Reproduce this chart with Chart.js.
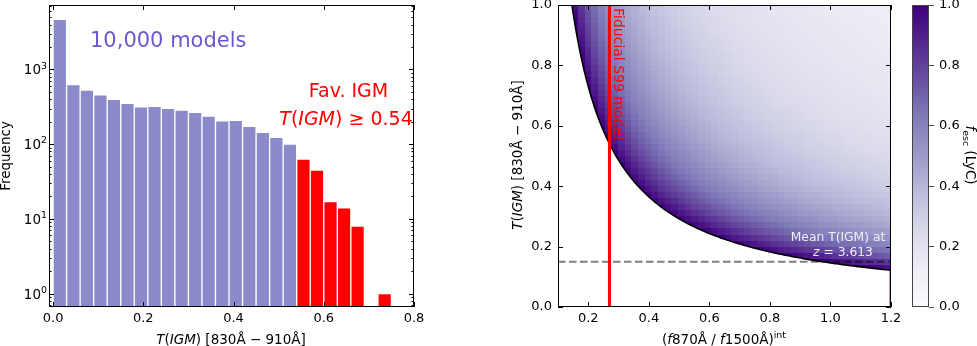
<!DOCTYPE html>
<html>
<head>
<meta charset="utf-8">
<script src="https://cdn.jsdelivr.net/npm/chart.js@4.4.1/dist/chart.umd.min.js"></script>
<style>
html, body { margin: 0; padding: 0; background: #fff; overflow: hidden; }
#wrap { position: relative; width: 977px; height: 346px; overflow: hidden; }
.box { position: absolute; }
</style>
</head>
<body>
<div id="wrap">
  <div class="box" style="left:0;top:-20px;width:470px;height:366px"><canvas id="histChart" width="470" height="366"></canvas></div>
  <div class="box" style="left:470px;top:-20px;width:440px;height:366px"><canvas id="mapChart" width="440" height="366"></canvas></div>
  <div class="box" style="left:880px;top:-20px;width:97px;height:366px"><canvas id="cbarChart" width="97" height="366"></canvas></div>
</div>
<script>
/* Histogram of T(IGM) over 830-910 A (bins of 0.03) */
const binLeft = [0.00, 0.03, 0.06, 0.09, 0.12, 0.15, 0.18, 0.21, 0.24, 0.27, 0.30, 0.33, 0.36,
                 0.39, 0.42, 0.45, 0.48, 0.51, 0.54, 0.57, 0.60, 0.63, 0.66, 0.69, 0.72];
const modelCounts = [4700, 630, 530, 458, 397, 351, 317, 320, 301, 286, 266, 238, 206,
                     208, 173, 144, 123, 100, 63, 45, 17, 14, 8, 0, 1];
const binWidth = 0.03;
const favCut = 0.54;
const histXTicks = [0.0, 0.2, 0.4, 0.6, 0.8];
const histYTicks = [1, 10, 100, 1000];
const histYExp = ['0', '1', '2', '3'];

/* fesc map: T(IGM) vs intrinsic (f870/f1500) */
const obsRatio = 0.146;
const fiducialRatio = 0.27;   // Fiducial S99 model
const meanTIGM = 0.15;        // mean T(IGM) at z = 3.613
const mapXTicks = [0.2, 0.4, 0.6, 0.8, 1.0, 1.2];
const mapYTicks = [0.0, 0.2, 0.4, 0.6, 0.8, 1.0];
const cbarTicks = [0.0, 0.2, 0.4, 0.6, 0.8, 1.0];
const mapGrid = { x0: 0.1, x1: 1.2, nx: 50, y0: 0.0, y1: 1.0, ny: 50 };

const FAMILY = '"DejaVu Sans", sans-serif';
const purplesStops = ['#fcfbfd', '#efedf5', '#dadaeb', '#bcbddc', '#9e9ac8', '#807dba', '#6a51a3', '#54278f', '#3f007d'];

Chart.defaults.font.family = FAMILY;
Chart.defaults.font.size = 13;
Chart.defaults.color = '#000';

function hexToRgb(h) {
    return [parseInt(h.slice(1, 3), 16), parseInt(h.slice(3, 5), 16), parseInt(h.slice(5, 7), 16)];
}
const purplesRgb = purplesStops.map(hexToRgb);

function purples(v) {
    const t = Math.max(0, Math.min(1, v)) * (purplesRgb.length - 1);
    const i = Math.min(Math.floor(t), purplesRgb.length - 2);
    const f = t - i;
    const a = purplesRgb[i], b = purplesRgb[i + 1];
    return `rgb(${Math.round(a[0] + (b[0] - a[0]) * f)},${Math.round(a[1] + (b[1] - a[1]) * f)},${Math.round(a[2] + (b[2] - a[2]) * f)})`;
}

/* Draw a line of text made of plain / italic / sup / sub pieces */
function richText(ctx, parts, x, y, o) {
    ctx.save();
    ctx.translate(x, y);
    if (o.angle) ctx.rotate(o.angle);
    ctx.fillStyle = o.color || '#000';
    ctx.textBaseline = 'alphabetic';
    ctx.textAlign = 'left';
    const items = parts.map(p => (typeof p === 'string' ? { t: p } : p));
    const fontOf = p => (p.it ? 'italic ' : '') + ((p.sup || p.sub) ? o.size * 0.7 : o.size) + 'px ' + FAMILY;
    let total = 0;
    const widths = items.map(p => {
        ctx.font = fontOf(p);
        const w = ctx.measureText(p.t).width;
        total += w;
        return w;
    });
    let cx = o.align === 'center' ? -total / 2 : o.align === 'right' ? -total : 0;
    items.forEach((p, i) => {
        ctx.font = fontOf(p);
        const dy = p.sup ? -o.size * 0.42 : p.sub ? o.size * 0.22 : 0;
        ctx.fillText(p.t, cx, dy);
        cx += widths[i];
    });
    ctx.restore();
}

/* Axes frame plus inward tick marks on all four sides (matplotlib style) */
function frameTicks(cfg) {
    return {
        id: 'frameTicks',
        afterDatasetsDraw(chart) {
            const { ctx, chartArea: a } = chart;
            const sx = chart.scales.x, sy = chart.scales.y;
            ctx.save();
            ctx.strokeStyle = '#000';
            ctx.lineWidth = 1;
            ctx.beginPath();
            const markX = (v, len) => {
                if (v < sx.min || v > sx.max) return;
                const p = Math.round(sx.getPixelForValue(v)) + 0.5;
                ctx.moveTo(p, a.bottom); ctx.lineTo(p, a.bottom - len);
                ctx.moveTo(p, a.top); ctx.lineTo(p, a.top + len);
            };
            const markY = (v, len) => {
                if (v < sy.min || v > sy.max) return;
                const p = Math.round(sy.getPixelForValue(v)) + 0.5;
                ctx.moveTo(a.left, p); ctx.lineTo(a.left + len, p);
                ctx.moveTo(a.right, p); ctx.lineTo(a.right - len, p);
            };
            cfg.xMajor.forEach(v => markX(v, 5));
            (cfg.yMajor || []).forEach(v => markY(v, 5));
            (cfg.yMinor || []).forEach(v => markY(v, 2.5));
            ctx.stroke();
            ctx.strokeRect(a.left + 0.5, a.top + 0.5, a.right - a.left - 1, a.bottom - a.top - 1);
            ctx.restore();
        }
    };
}

/* log minor ticks 2..9 per decade */
const histYMinor = [];
for (let e = -1; e <= 3; e++) {
    for (let m = 2; m <= 9; m++) histYMinor.push(m * Math.pow(10, e));
}

/* ---------- left panel: histogram ---------- */
const allBars = [], favBars = [];
binLeft.forEach((x, i) => {
    const pt = { x: x + binWidth / 2, y: modelCounts[i] > 0 ? modelCounts[i] : null };
    if (x >= favCut - 1e-9) favBars.push(pt); else allBars.push(pt);
});

const histText = {
    id: 'histText',
    afterDraw(chart) {
        const ctx = chart.ctx;
        const sy = chart.scales.y;
        // power-of-ten labels with a real superscript
        histYTicks.forEach((v, i) => {
            const py = sy.getPixelForValue(v);
            richText(ctx, ['10', { t: histYExp[i], sup: true }], 47, py + 5, { size: 13.5, align: 'right' });
        });
        ctx.save();
        ctx.translate(0, 20);
        richText(ctx, ['10,000 models'], 90, 47, { size: 21, color: '#6a5acd' });
        richText(ctx, ['Fav. IGM'], 348.5, 97, { size: 19, color: '#ff0000', align: 'center' });
        richText(ctx, [{ t: 'T', it: true }, '(', { t: 'IGM', it: true }, ')', ' ≥ 0.54'], 346, 125,
            { size: 19, color: '#ff0000', align: 'center' });
        richText(ctx, ['Frequency'], 10, 156, { size: 13.5, align: 'center', angle: -Math.PI / 2 });
        richText(ctx, [{ t: 'T', it: true }, '(', { t: 'IGM', it: true }, ') [830Å − 910Å]'], 231, 343.5,
            { size: 13.5, align: 'center' });
        ctx.restore();
    }
};

new Chart(document.getElementById('histChart'), {
    type: 'bar',
    data: {
        datasets: [
            {
                label: 'All models',
                data: allBars,
                backgroundColor: '#8b8bcb',
                borderColor: '#ffffff',
                borderWidth: 1,
                borderSkipped: 'start',
                grouped: false,
                barPercentage: 1,
                categoryPercentage: 1
            },
            {
                label: 'Fav. IGM',
                data: favBars,
                backgroundColor: '#ff0000',
                borderColor: '#ffffff',
                borderWidth: 1,
                borderSkipped: 'start',
                grouped: false,
                barPercentage: 1,
                categoryPercentage: 1
            }
        ]
    },
    options: {
        responsive: false,
        animation: false,
        layout: { padding: { top: 25, right: 56, left: 0, bottom: 0 } },
        plugins: { legend: { display: false }, tooltip: { enabled: false } },
        scales: {
            x: {
                type: 'linear',
                min: -0.009,
                max: 0.8,
                offset: false,
                grid: { display: false, drawTicks: false },
                border: { display: false },
                ticks: { padding: 4, callback: v => v.toFixed(1) },
                afterBuildTicks: s => { s.ticks = histXTicks.map(v => ({ value: v })); },
                afterFit: s => { s.height = 39; }
            },
            y: {
                type: 'logarithmic',
                min: 0.66,
                max: 7300,
                bounds: 'data',
                grid: { display: false, drawTicks: false },
                border: { display: false },
                ticks: { display: false },
                afterBuildTicks: s => { s.ticks = histYTicks.map(v => ({ value: v })); },
                afterFit: s => { s.width = 49; }
            }
        }
    },
    plugins: [frameTicks({ xMajor: histXTicks, yMajor: histYTicks, yMinor: histYMinor }), histText]
});

/* ---------- right panel: fesc map ---------- */
const heatLayer = {
    id: 'heatLayer',
    beforeDatasetsDraw(chart) {
        const { ctx } = chart;
        const sx = chart.scales.x, sy = chart.scales.y;
        const dx = (mapGrid.x1 - mapGrid.x0) / mapGrid.nx;
        const dy = (mapGrid.y1 - mapGrid.y0) / mapGrid.ny;
        ctx.save();
        for (let i = 0; i < mapGrid.nx; i++) {
            const xa = mapGrid.x0 + i * dx;
            const px0 = Math.round(sx.getPixelForValue(xa));
            const px1 = Math.round(sx.getPixelForValue(xa + dx));
            for (let j = 0; j < mapGrid.ny; j++) {
                const ya = mapGrid.y0 + j * dy;
                const py0 = Math.round(sy.getPixelForValue(ya));
                const py1 = Math.round(sy.getPixelForValue(ya + dy));
                const fesc = obsRatio / ((xa + dx / 2) * (ya + dy / 2));
                ctx.fillStyle = purples(Math.min(fesc, 1));
                ctx.fillRect(px0, py1, px1 - px0, py0 - py1);
            }
        }
        ctx.restore();
    }
};

// fesc = 1 edge: everything to its lower left is unphysical and left blank
const edgePoints = [{ x: mapGrid.x0, y: 1 }];
for (let x = obsRatio; x <= mapGrid.x1 + 1e-9; x += 0.005) edgePoints.push({ x: x, y: obsRatio / x });

const mapText = {
    id: 'mapText',
    afterDraw(chart) {
        const ctx = chart.ctx;
        const redPx = chart.scales.x.getPixelForValue(fiducialRatio);
        ctx.save();
        richText(ctx, ['Fiducial S99 model'], redPx + 5, 28, { size: 14, color: '#ff0000', angle: Math.PI / 2 });
        ctx.translate(-470, 20);
        richText(ctx, ['Mean T(IGM) at'], 838, 241, { size: 12.3, color: '#eeeef6', align: 'center' });
        richText(ctx, [{ t: 'z', it: true }, ' = 3.613'], 843, 256, { size: 12.3, color: '#eeeef6', align: 'center' });
        richText(ctx, [{ t: 'T', it: true }, '(', { t: 'IGM', it: true }, ') [830Å − 910Å]'], 521.5, 155,
            { size: 13.5, align: 'center', angle: -Math.PI / 2 });
        richText(ctx, ['(', { t: 'f', it: true }, '870Å / ', { t: 'f', it: true }, '1500Å)', { t: 'int', sup: true }], 724, 343.5,
            { size: 13.5, align: 'center' });
        ctx.restore();
    }
};

new Chart(document.getElementById('mapChart'), {
    type: 'scatter',
    data: {
        datasets: [
            {
                label: 'Fiducial S99 model',
                data: [{ x: fiducialRatio, y: 0 }, { x: fiducialRatio, y: 1 }],
                showLine: true,
                borderColor: '#ff0000',
                borderWidth: 3,
                pointRadius: 0
            },
            {
                label: 'Mean T(IGM)',
                data: [{ x: mapGrid.x0, y: meanTIGM }, { x: mapGrid.x1, y: meanTIGM }],
                showLine: true,
                borderColor: 'rgba(0,0,0,0.5)',
                borderWidth: 2,
                borderDash: [7.5, 3.5],
                pointRadius: 0
            },
            {
                label: 'fesc = 1',
                data: edgePoints,
                showLine: true,
                borderColor: '#000000',
                borderWidth: 1.6,
                pointRadius: 0,
                fill: 'start',
                backgroundColor: '#ffffff'
            }
        ]
    },
    options: {
        responsive: false,
        animation: false,
        layout: { padding: { top: 25, right: 19, left: 0, bottom: 0 } },
        plugins: { legend: { display: false }, tooltip: { enabled: false } },
        scales: {
            x: {
                type: 'linear',
                min: mapGrid.x0,
                max: mapGrid.x1,
                grid: { display: false, drawTicks: false },
                border: { display: false },
                ticks: { padding: 4, callback: v => v.toFixed(1) },
                afterBuildTicks: s => { s.ticks = mapXTicks.map(v => ({ value: v })); },
                afterFit: s => { s.height = 39; }
            },
            y: {
                type: 'linear',
                min: 0,
                max: 1,
                grid: { display: false, drawTicks: false },
                border: { display: false },
                ticks: { padding: 6, callback: v => v.toFixed(1) },
                afterBuildTicks: s => { s.ticks = mapYTicks.map(v => ({ value: v })); },
                afterFit: s => { s.width = 88; }
            }
        }
    },
    plugins: [heatLayer, frameTicks({ xMajor: mapXTicks, yMajor: mapYTicks }), mapText]
});

/* ---------- colorbar ---------- */
const cbarText = {
    id: 'cbarText',
    afterDraw(chart) {
        const { ctx, chartArea: a } = chart;
        ctx.save();
        ctx.strokeStyle = '#444';
        ctx.lineWidth = 1;
        ctx.strokeRect(a.left + 0.5, a.top + 0.5, a.right - a.left - 1, a.bottom - a.top - 1);
        ctx.translate(-880, 20);
        richText(ctx, [{ t: 'f', it: true }, { t: 'esc', sub: true }, ' (LyC)'], 966, 155,
            { size: 13.5, align: 'center', angle: Math.PI / 2 });
        ctx.restore();
    }
};

new Chart(document.getElementById('cbarChart'), {
    type: 'bar',
    data: {
        labels: ['fesc'],
        datasets: [{
            data: [[cbarTicks[0], cbarTicks[cbarTicks.length - 1]]],
            backgroundColor: c => {
                const area = c.chart.chartArea;
                if (!area) return purplesStops[4];
                const g = c.chart.ctx.createLinearGradient(0, area.bottom, 0, area.top);
                purplesStops.forEach((col, i) => g.addColorStop(i / (purplesStops.length - 1), col));
                return g;
            },
            borderWidth: 0,
            barPercentage: 1,
            categoryPercentage: 1
        }]
    },
    options: {
        responsive: false,
        animation: false,
        layout: { padding: { top: 25, right: 0, left: 32, bottom: 39 } },
        plugins: { legend: { display: false }, tooltip: { enabled: false } },
        scales: {
            x: { display: false },
            y: {
                position: 'right',
                min: 0,
                max: 1,
                grid: { drawOnChartArea: false, drawTicks: true, tickLength: 5, color: '#555' },
                border: { display: false },
                ticks: { padding: 5, callback: v => v.toFixed(1) },
                afterBuildTicks: s => { s.ticks = cbarTicks.map(v => ({ value: v })); },
                afterFit: s => { s.width = 48; }
            }
        }
    },
    plugins: [cbarText]
});
</script>
</body>
</html>
